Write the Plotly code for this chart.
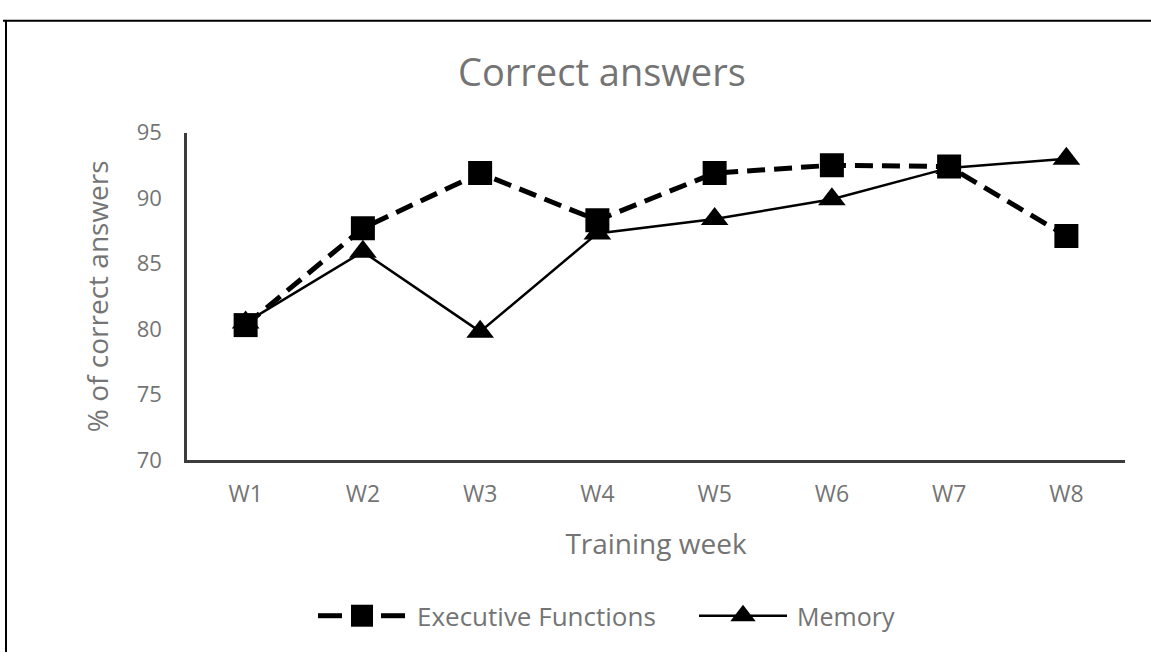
import plotly.graph_objects as go

# Weekly training results (% of correct answers)
weeks = ["W1", "W2", "W3", "W4", "W5", "W6", "W7", "W8"]
executive_functions = [80.3, 87.7, 91.9, 88.3, 91.9, 92.5, 92.4, 87.1]
memory = [80.5, 85.9, 79.8, 87.3, 88.4, 89.9, 92.3, 93.0]
y_ticks = [70, 75, 80, 85, 90, 95]

W, H = 1151, 666
FONT = "Open Sans"
TEXT = "#747474"
AXIS = "#3c3c3c"

# plot area in page pixels
PL, PR, PT, PB = 187, 1125, 122, 465

fig = go.Figure()

fig.add_trace(go.Scatter(
    x=weeks, y=executive_functions, name="Executive Functions",
    mode="lines+markers",
    line=dict(color="black", width=5, dash="18px,9px"),
    marker=dict(symbol="square", size=24, color="black"),
    showlegend=False,
))
fig.add_trace(go.Scatter(
    x=weeks, y=memory, name="Memory",
    mode="lines+markers",
    line=dict(color="black", width=2.5),
    marker=dict(symbol="triangle-up", size=24, color="black"),
    showlegend=False,
))

# legend samples drawn on a page-pixel overlay axis pair
LY = 628
fig.add_trace(go.Scatter(
    x=[318, 342, None, 381, 405], y=[LY, LY, None, LY, LY],
    mode="lines", line=dict(color="black", width=5),
    xaxis="x2", yaxis="y2", showlegend=False, hoverinfo="skip",
))
fig.add_trace(go.Scatter(
    x=[362], y=[LY], mode="markers",
    marker=dict(symbol="square", size=22, color="black"),
    xaxis="x2", yaxis="y2", showlegend=False, hoverinfo="skip",
))
fig.add_trace(go.Scatter(
    x=[699, 787], y=[LY, LY], mode="lines",
    line=dict(color="black", width=2.5),
    xaxis="x2", yaxis="y2", showlegend=False, hoverinfo="skip",
))
fig.add_trace(go.Scatter(
    x=[743], y=[LY], mode="markers",
    marker=dict(symbol="triangle-up", size=22, color="black"),
    xaxis="x2", yaxis="y2", showlegend=False, hoverinfo="skip",
))

fig.update_layout(
    margin=dict(l=0, r=0, t=0, b=0),
    paper_bgcolor="white",
    plot_bgcolor="rgba(0,0,0,0)",
    font=dict(family=FONT, color=TEXT),
    xaxis=dict(
        domain=[PL / W, PR / W],
        type="category",
        range=[-0.5, 7.5],
        showline=True, linecolor=AXIS, linewidth=2.5,
        showgrid=False, zeroline=False, ticks="",
        tickfont=dict(size=23, color=TEXT),
        ticklabelstandoff=12,
        title=dict(text="Training week", font=dict(size=28, color=TEXT), standoff=26),
    ),
    yaxis=dict(
        domain=[(H - PB) / H, (H - PT) / H],
        range=[70, 95],
        tickvals=y_ticks,
        showline=True, linecolor=AXIS, linewidth=2.5,
        showgrid=False, zeroline=False, ticks="",
        tickfont=dict(size=22, color=TEXT),
        ticklabelstandoff=18,
        title=dict(text="% of correct answers", font=dict(size=28, color=TEXT), standoff=20),
    ),
    xaxis2=dict(domain=[0, 1], range=[0, W], visible=False, anchor="y2", fixedrange=True),
    yaxis2=dict(domain=[0, 1], range=[H, 0], visible=False, anchor="x2", fixedrange=True),
    annotations=[
        dict(text="Correct answers", x=602 / W, y=1 - 58 / H, xref="paper", yref="paper",
             xanchor="center", yanchor="middle", showarrow=False,
             font=dict(size=38, color=TEXT)),
        dict(text="Executive Functions", x=415 / W, y=1 - LY / H, xref="paper", yref="paper",
             xanchor="left", yanchor="middle", showarrow=False,
             font=dict(size=26, color=TEXT)),
        dict(text="Memory", x=795 / W, y=1 - LY / H, xref="paper", yref="paper",
             xanchor="left", yanchor="middle", showarrow=False,
             font=dict(size=25, color=TEXT)),
    ],
    shapes=[
        dict(type="line", xref="paper", yref="paper", x0=3 / W, x1=1, y0=1 - 5 / H, y1=1 - 5 / H,
             line=dict(color="black", width=2)),
        dict(type="line", xref="paper", yref="paper", x0=6 / W, x1=6 / W, y0=0, y1=1 - 5 / H,
             line=dict(color="black", width=2)),
    ],
)

fig.write_html("out.html")
